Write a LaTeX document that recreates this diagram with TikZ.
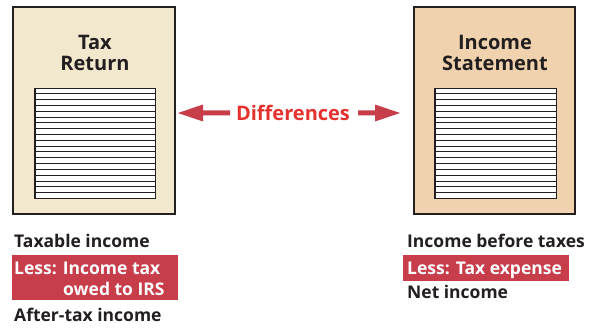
\documentclass[tikz,border=0pt]{standalone}
\usepackage{fontspec}
\setmainfont{Open Sans}
\definecolor{beige}{HTML}{F2E8CD}
\definecolor{peach}{HTML}{F0D3AE}
\definecolor{darkred}{HTML}{C73D4A}
\definecolor{brightred}{HTML}{E4322F}
\definecolor{ink}{HTML}{231F20}
\begin{document}
\begin{tikzpicture}[x=1pt,y=-1pt,
  doc/.style={draw=ink,line width=2pt},
  title/.style={font=\fontsize{20}{21}\selectfont\bfseries,text=ink,align=center,inner sep=0pt},
  lbl/.style={font=\fontsize{17.5}{19}\selectfont\bfseries,text=ink,anchor=base west,inner sep=0pt},
  wlbl/.style={font=\fontsize{17.5}{19}\selectfont\bfseries,text=white,anchor=base west,inner sep=0pt},
  redbar/.style={fill=darkred,draw=none},
  arr/.style={fill=darkred,draw=none}]
\useasboundingbox (0,0) rectangle (590,329);
\fill[white] (0,0) rectangle (590,329);
% left document
\draw[doc,fill=beige] (13,7) rectangle (175,214);
\node[title] (tr) at (95,53) {Tax\\Return};
\fill[white] (35,88) rectangle (155,198.5);
\foreach \i in {0,...,19} \draw[ink,line width=0.9pt] (35,88+5.81*\i) -- (155,88+5.81*\i);
\draw[ink,line width=1.2pt] (35,88) -- (35,198.5);
\draw[ink,line width=0.8pt] (155,88) -- (155,198.5);
% right document
\draw[doc,fill=peach] (414,7) rectangle (575,214);
\node[title] (is) at (495,53) {Income\\Statement};
\fill[white] (435,88) rectangle (556,198.5);
\foreach \i in {0,...,19} \draw[ink,line width=0.9pt] (435,88+5.81*\i) -- (556,88+5.81*\i);
\draw[ink,line width=1.2pt] (435,88) -- (435,198.5);
\draw[ink,line width=0.8pt] (556,88) -- (556,198.5);
% differences
\node[font=\fontsize{20}{22}\selectfont\bfseries,text=brightred,inner sep=0pt] (diff) at (293,113) {Differences};
\fill[arr] (178,113) -- (203,104.5) -- (203,110.5) -- (230,110.5) -- (230,115.5) -- (203,115.5) -- (203,121.5) -- cycle;
\fill[arr] (400,113) -- (375,104.5) -- (375,110.5) -- (358,110.5) -- (358,115.5) -- (375,115.5) -- (375,121.5) -- cycle;
% left texts
\node[lbl] (ti) at (14,247) {Taxable income};
\fill[redbar] (12,255) rectangle (178,300);
\node[wlbl] (less1) at (14,274) {Less: Income tax};
\node[wlbl] (owed) at (63,295) {owed to IRS};
\node[lbl] (ati) at (14,321) {After-tax income};
% right texts
\node[lbl] (ibt) at (407,247) {Income before taxes};
\fill[redbar] (403,255) rectangle (569,281);
\node[wlbl] (less2) at (407,274) {Less: Tax expense};
\node[lbl] (ni) at (407,298) {Net income};
\end{tikzpicture}
\end{document}
